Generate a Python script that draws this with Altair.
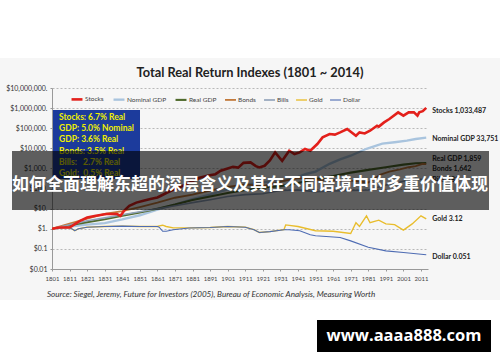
import altair as alt
import pandas as pd

# ---------------- data ----------------
series_names = ["Stocks", "Nominal GDP", "Real GDP", "Bonds", "Bills", "Gold", "Dollar"]
series_colors = ["#e3201b", "#a9c4de", "#4f6a2c", "#c27a3c", "#8fa0b8", "#e9bd2c", "#4e6cb3"]

stocks_years = [1801, 1805, 1811, 1814, 1817, 1821, 1826, 1832, 1838, 1840, 1842, 1845, 1849,
                1853, 1857, 1861, 1863, 1866, 1870, 1875, 1878, 1882, 1885, 1890, 1894, 1897,
                1901, 1904, 1907, 1910, 1914, 1917, 1919, 1922, 1925, 1928, 1932, 1936, 1939,
                1942, 1945, 1948, 1952, 1955, 1959, 1962, 1965, 1969, 1974, 1976, 1979, 1982,
                1986, 1987, 1990, 1993, 1998, 2001, 2004, 2007, 2009, 2010, 2012, 2014]
stocks_vals = [1, 1.16, 1.16, 1.7, 2.5, 3.65, 4.4, 5.4, 5.4, 4.4, 7.9, 14, 20,
               25, 30, 36, 44, 60, 87, 130, 174, 260, 345, 450, 520, 770,
               1000, 1200, 1100, 1900, 1990, 1300, 1120, 1360, 2500, 6270, 2400, 7600, 5200,
               6270, 9300, 7600, 16400, 35000, 51500, 48000, 62000, 91000, 42500, 62000, 55000, 75000,
               133000, 120000, 195000, 288000, 616000, 420000, 616000, 616000, 420000, 616000,
               700000, 1033487]

ngdp_years = [1801, 1811, 1821, 1831, 1841, 1851, 1861, 1871, 1881, 1891, 1901, 1911, 1921, 1931,
              1941, 1946, 1951, 1959, 1965, 1971, 1980, 1989, 1996, 2003, 2008, 2014]
ngdp_vals = [1, 1.3, 1.6, 1.9, 2.9, 4.7, 9, 16, 30, 50, 90, 150, 210, 230,
             380, 545, 700, 1700, 2800, 4300, 9500, 17000, 20000, 24000, 29000, 33751]

rgdp_years = [1801, 1811, 1821, 1831, 1841, 1851, 1861, 1871, 1881, 1891, 1901, 1911, 1921, 1931,
              1941, 1951, 1961, 1971, 1981, 1991, 2001, 2008, 2014]
rgdp_vals = [1, 1.5, 2.1, 3.0, 4.5, 6.5, 10, 16, 27, 40, 60, 85, 110, 130,
             190, 300, 420, 620, 850, 1150, 1550, 1800, 1859]

bonds_years = [1801, 1811, 1821, 1831, 1841, 1851, 1861, 1871, 1881, 1891, 1901, 1911, 1921, 1931,
               1941, 1946, 1951, 1961, 1971, 1981, 1988, 1993, 1999, 2004, 2008, 2012, 2014]
bonds_vals = [1, 1.8, 3.2, 5.5, 7.5, 12, 20, 35, 50, 80, 120, 160, 130, 220,
              330, 320, 280, 260, 250, 200, 500, 700, 900, 1150, 1300, 1700, 1642]

bills_years = [1801, 1811, 1821, 1831, 1841, 1851, 1861, 1871, 1881, 1891, 1901, 1911, 1921, 1931,
               1941, 1951, 1961, 1971, 1981, 1991, 2001, 2008, 2014]
bills_vals = [1, 1.6, 2.5, 3.5, 5, 7, 10, 14, 20, 28, 40, 50, 55, 80,
              85, 70, 75, 80, 85, 150, 230, 295, 281]

gold_years = [1801, 1805, 1811, 1814, 1816, 1821, 1831, 1841, 1851, 1861, 1862, 1864, 1866, 1870,
              1879, 1891, 1901, 1911, 1916, 1919, 1925, 1931, 1933, 1934, 1941, 1951, 1961, 1971,
              1974, 1976, 1980, 1982, 1987, 1991, 1996, 2001, 2006, 2011, 2014]
gold_vals = [1, 1.1, 1.16, 0.8, 1.0, 1.2, 1.3, 1.35, 1.3, 1.3, 1.4, 1.5, 1.3, 1.1,
             1.1, 1.16, 1.3, 1.2, 0.9, 0.65, 0.72, 0.85, 0.9, 1.55, 1.3, 0.8, 0.75, 0.58,
             2.0, 1.3, 4.4, 2.0, 2.7, 1.75, 1.6, 0.86, 1.75, 4.4, 3.12]

dollar_years = [1801, 1805, 1811, 1814, 1816, 1821, 1831, 1841, 1851, 1861, 1862, 1864, 1866, 1870,
                1879, 1891, 1901, 1911, 1916, 1919, 1925, 1931, 1933, 1936, 1942, 1948, 1951, 1965,
                1971, 1981, 1991, 2001, 2014]
dollar_vals = [1, 1.1, 1.16, 0.8, 1.0, 1.2, 1.3, 1.35, 1.3, 1.3, 1.2, 0.75, 0.75, 0.9,
               1.1, 1.16, 1.3, 1.2, 0.9, 0.65, 0.72, 0.85, 0.9, 0.9, 0.8, 0.5, 0.45, 0.37,
               0.25, 0.12, 0.08, 0.066, 0.051]

end_labels = ["Stocks 1,033,487", "Nominal GDP 33,751", "Real GDP 1,859", "Bonds 1,642",
              "Bills 281", "Gold 3.12", "Dollar 0.051"]
end_values = [1033487, 33751, 1859, 1642, 281, 3.12, 0.051]
end_shift = [3, 1, -4, 5, 0, 0, 2]

box_lines = ["Stocks: 6.7% Real", "GDP: 5.0% Nominal", "GDP: 3.6% Real",
             "Bonds: 3.5% Real", "Bills:\u00a0\u00a0\u00a02.7% Real", "Gold:\u00a0\u00a00.5% Real"]

title_text = "Total Real Return Indexes (1801 ~ 2014)"
source_text = ("Source: Siegel, Jeremy, Future for Investors (2005), "
               "Bureau of Economic Analysis, Measuring Worth")
banner_text = "如何全面理解东超的深层含义及其在不同语境中的多重价值体现"
watermark_text = "www.aaaa888.com"

x_ticks = list(range(1801, 2012, 10))
y_ticks = [0.01, 0.1, 1, 10, 100, 1000, 10000, 100000, 1000000, 10000000]

# ---------------- build table ----------------
rows = []
all_series = [
    ("Nominal GDP", ngdp_years, ngdp_vals),
    ("Real GDP", rgdp_years, rgdp_vals),
    ("Bonds", bonds_years, bonds_vals),
    ("Bills", bills_years, bills_vals),
    ("Gold", gold_years, gold_vals),
    ("Dollar", dollar_years, dollar_vals),
    ("Stocks", stocks_years, stocks_vals),
]
for name, ys, vs in all_series:
    for y, v in zip(ys, vs):
        rows.append({"series": name, "year": y, "value": v})
df = pd.DataFrame(rows)

W, H = 376, 181
FONT = "Lato"

x_scale = alt.Scale(domain=[1801, 2015], nice=False, zero=False)
y_scale = alt.Scale(type="log", domain=[0.01, 10000000], nice=False)

x_axis = alt.Axis(values=x_ticks, format="d", title=None, grid=False,
                  labelFontSize=6, labelColor="#444", labelFont=FONT,
                  tickSize=2, tickColor="#999", domainColor="#999",
                  labelOverlap=False, labelFlush=False, labelPadding=4)
y_axis = alt.Axis(values=y_ticks, title=None, grid=True, gridDash=[2, 2],
                  gridColor="#a8a8a8", gridWidth=0.8, labelOverlap=False,
                  labelExpr="datum.value >= 1 ? '$' + format(datum.value, ',') + '.' : '$' + datum.value",
                  labelFontSize=7, labelColor="#333", labelFont=FONT,
                  tickSize=2, tickColor="#999", domainColor="#999", labelPadding=3)

one = pd.DataFrame({"k": [0]})

# white strips above and below the light grey picture panel
top_strip = alt.Chart(one).mark_rect(color="#ffffff").encode(
    x=alt.value(-52), x2=alt.value(448), y=alt.value(-88), y2=alt.value(-30))
bottom_strip = alt.Chart(one).mark_rect(color="#ffffff").encode(
    x=alt.value(-52), x2=alt.value(448), y=alt.value(212), y2=alt.value(274))

lines = alt.Chart(df).mark_line(clip=True).encode(
    x=alt.X("year:Q", scale=x_scale, axis=x_axis),
    y=alt.Y("value:Q", scale=y_scale, axis=y_axis),
    color=alt.Color("series:N", scale=alt.Scale(domain=series_names, range=series_colors),
                    legend=alt.Legend(orient="none", legendX=18, legendY=4, direction="horizontal",
                                      title=None, symbolType="stroke", symbolSize=120,
                                      symbolStrokeWidth=1.5, labelFontSize=6.5, labelFont=FONT,
                                      labelColor="#444", columnPadding=4, labelOffset=1)),
    strokeWidth=alt.StrokeWidth("series:N",
                                scale=alt.Scale(domain=series_names,
                                                range=[2.6, 1.1, 1.1, 1.1, 1.1, 1.3, 1.3]),
                                legend=None),
    detail="series:N",
)

box = alt.Chart(one).mark_rect(color="#1c3b9c").encode(
    x=alt.value(1), x2=alt.value(88), y=alt.value(22), y2=alt.value(91))
box_text = alt.Chart(one).mark_text(align="left", baseline="top", font=FONT, fontWeight="bold",
                                    fontSize=8.5, color="#f0f000", lineHeight=11.2).encode(
    x=alt.value(7), y=alt.value(25), text=alt.value(box_lines))

label_layers = []
for lab, val, sh in zip(end_labels, end_values, end_shift):
    ldf = pd.DataFrame({"label": [lab], "year": [2014], "value": [val]})
    label_layers.append(
        alt.Chart(ldf).mark_text(align="left", baseline="middle", dx=6, dy=sh, font=FONT,
                                 fontSize=7, fontWeight="bold", color="#222").encode(
            x=alt.X("year:Q", scale=x_scale, axis=x_axis),
            y=alt.Y("value:Q", scale=y_scale, axis=y_axis),
            text="label:N"))

title = alt.Chart(one).mark_text(align="center", baseline="middle", font=FONT, fontWeight="bold",
                                 fontSize=12.8, color="#222").encode(
    x=alt.value(198), y=alt.value(-15), text=alt.value(title_text))

source = alt.Chart(one).mark_text(align="left", baseline="middle", font=FONT, fontStyle="italic",
                                  fontSize=8.1, color="#333").encode(
    x=alt.value(-5), y=alt.value(207), text=alt.value(source_text))

banner = alt.Chart(one).mark_rect(color="#000000", opacity=0.62).encode(
    x=alt.value(-40), x2=alt.value(437), y=alt.value(63), y2=alt.value(122))
banner_t = alt.Chart(one).mark_text(align="center", baseline="middle", font="Noto Sans CJK SC",
                                    fontWeight="bold", fontSize=17, color="#ffffff").encode(
    x=alt.value(198), y=alt.value(97), text=alt.value(banner_text))

wm = alt.Chart(one).mark_rect(color="#000000").encode(
    x=alt.value(265), x2=alt.value(439), y=alt.value(232), y2=alt.value(264))
wm_t = alt.Chart(one).mark_text(align="center", baseline="middle", font="Open Sans",
                                fontWeight="bold", fontSize=16.5, color="#ffffff").encode(
    x=alt.value(352), y=alt.value(248), text=alt.value(watermark_text))

chart = alt.layer(top_strip, bottom_strip, lines, box, box_text, *label_layers, title, source,
                  banner, banner_t, wm, wm_t).resolve_scale(color="shared").properties(
    width=W, height=H,
    autosize=alt.AutoSizeParams(type="none"),
    padding={"left": 52, "top": 88, "right": 72, "bottom": 93},
    background="#f6f6f6",
).configure_view(stroke=None).configure_axis(labelOverlap=False)

chart.save("out.html", embed_options={"renderer": "svg", "actions": False})
